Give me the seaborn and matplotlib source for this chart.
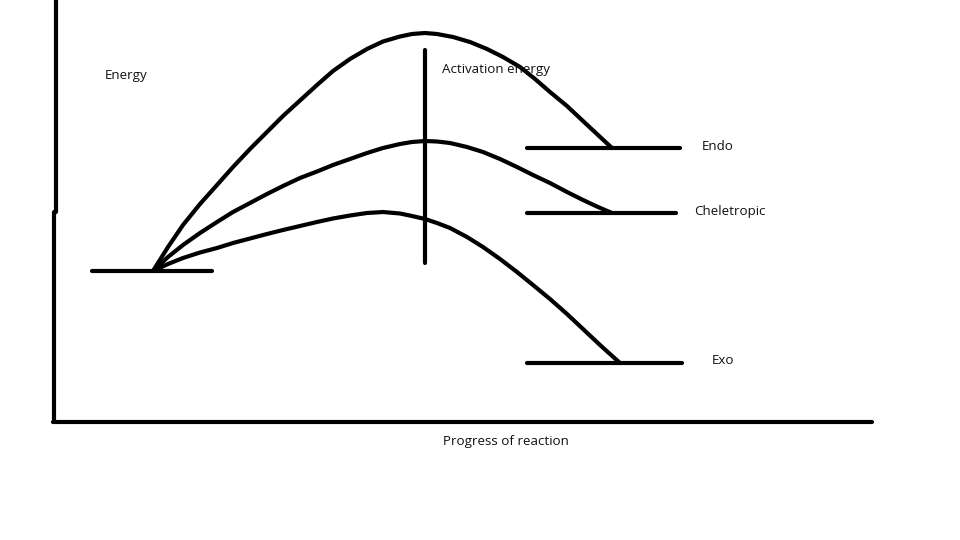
import pandas as pd
import matplotlib
matplotlib.use("Agg")
import matplotlib.pyplot as plt
import seaborn as sns

# pixel coordinates (y grows downwards)
endo_x = [153, 168, 183, 200, 217, 233, 250, 267, 283, 300, 317, 333, 350, 367,
          383, 400, 412, 425, 437, 453, 470, 487, 503, 520, 535, 550, 567, 583, 598, 612]
endo_y = [271, 247, 225, 204, 185, 167, 149, 132, 116, 100.5, 85, 71, 59, 49,
          41.5, 36.5, 34, 33, 34, 37, 42, 49, 57, 67, 79, 92, 106, 121, 135, 148]

chel_x = [153, 168, 183, 200, 217, 233, 250, 267, 283, 300, 317, 333, 350, 367,
          383, 400, 412, 425, 437, 450, 467, 483, 500, 517, 533, 550, 567, 583, 598, 612]
chel_y = [271, 257, 245, 233, 222, 212, 203, 194, 186, 178, 171.5, 165, 159, 153,
          148, 144, 142, 141, 141.5, 143, 147, 152, 159, 167, 175, 183, 192, 200, 207, 213]

exo_x = [153, 168, 183, 200, 217, 233, 250, 267, 283, 300, 317, 333, 350, 367,
         383, 400, 412, 425, 437, 450, 467, 483, 500, 517, 533, 550, 567, 583, 600, 620]
exo_y = [271, 264, 258, 252.5, 248, 243, 238.5, 234, 230, 226, 222, 218.5, 215.5, 213,
         212, 213.5, 216, 219, 223, 228, 237, 247, 259, 272, 285, 299, 314, 329, 345, 363]

# straight strokes: ([x0, x1], [y0, y1])
strokes = {
    "reactant": ([92, 212], [271, 271]),
    "endo_level": ([527, 680], [148, 148]),
    "chel_level": ([527, 676], [213, 213]),
    "exo_level": ([527, 682], [363, 363]),
    "activation": ([425, 425], [50, 263]),
    "y_axis_top": ([56, 56], [0, 212]),
    "y_axis_low": ([54, 54], [212, 422]),
    "x_axis": ([53, 872], [422, 422]),
}

labels = ["Energy", "Activation energy", "Endo", "Cheletropic", "Exo", "Progress of reaction"]
label_x = [105, 442, 702, 694, 712, 443]
label_y = [76, 70, 146, 211, 360, 442]

rows = []
for name, xs, ys in [("endo", endo_x, endo_y), ("chel", chel_x, chel_y), ("exo", exo_x, exo_y)]:
    rows += [{"seg": name, "x": x, "y": y} for x, y in zip(xs, ys)]
for name, (xs, ys) in strokes.items():
    rows += [{"seg": name, "x": x, "y": y} for x, y in zip(xs, ys)]
df = pd.DataFrame(rows)

sns.set_theme(style="white")
plt.rcParams["font.family"] = ["Open Sans", "DejaVu Sans"]

fig = plt.figure(figsize=(9.6, 5.4), dpi=100)
ax = fig.add_axes([0, 0, 1, 1])
sns.lineplot(data=df, x="x", y="y", units="seg", estimator=None, sort=False,
             color="black", linewidth=3.0, solid_capstyle="round",
             solid_joinstyle="round", ax=ax)

for t, x, y in zip(labels, label_x, label_y):
    ax.text(x, y, t, fontsize=9.6, color="#111111", ha="left", va="center")

ax.set_xlim(0, 960)
ax.set_ylim(540, 0)
ax.axis("off")
fig.savefig("out.png", dpi=100, facecolor="white")
